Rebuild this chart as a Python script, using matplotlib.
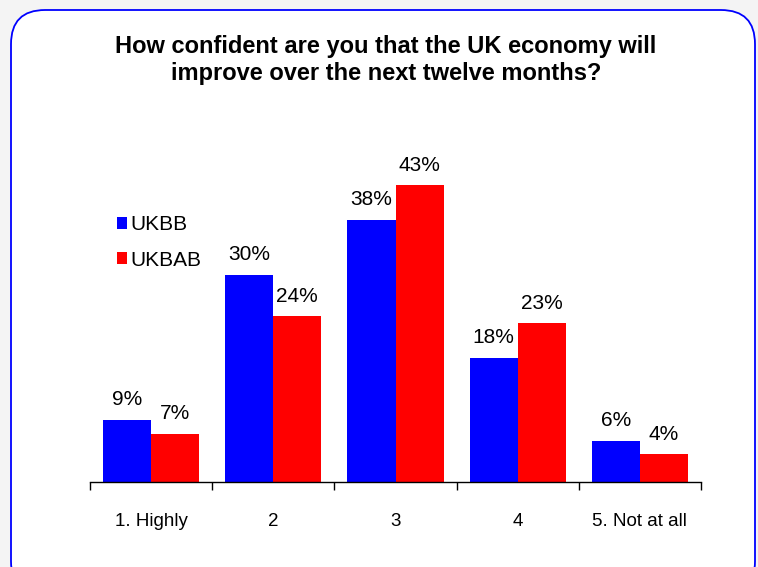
import matplotlib.pyplot as plt
from matplotlib.patches import FancyBboxPatch
import numpy as np

categories = ["1. Highly", "2", "3", "4", "5. Not at all"]
ukbb = [9, 30, 38, 18, 6]
ukbab = [7, 24, 43, 23, 4]
series_names = ["UKBB", "UKBAB"]
colors = ["#0000FF", "#FF0000"]
title = "How confident are you that the UK economy will\nimprove over the next twelve months?"

plt.rcParams['font.family'] = ['Liberation Sans', 'DejaVu Sans']

fig = plt.figure(figsize=(7.58, 5.67), dpi=100)
fig.patch.set_facecolor("#f4f4f4")

# rounded panel behind everything
panel = FancyBboxPatch((11 / 758, -0.05), 744 / 758, 1.05 - 10 / 567,
                       boxstyle="round,pad=0,rounding_size=0.045",
                       transform=fig.transFigure, facecolor="white",
                       edgecolor="#0000FF", linewidth=1.3, zorder=-5,
                       mutation_aspect=758 / 567)
fig.patches.append(panel)

ax = fig.add_axes([90 / 758, 85 / 567, 611 / 758, 352 / 567])
ax.set_facecolor("none")

x = np.arange(len(categories))
w = 0.393

for i, (vals, name) in enumerate(zip([ukbb, ukbab], series_names)):
    pos = x + (i - 0.5) * w
    ax.bar(pos, vals, width=w, color=colors[i], label=name, zorder=2)
    for p, v in zip(pos, vals):
        ax.annotate(f"{v}%", (p, v), xytext=(0, 10.5), textcoords="offset points",
                    ha="center", va="baseline", fontsize=15)

ax.set_xlim(-0.5, len(categories) - 0.5)
ax.set_ylim(0, 51)
ax.set_yticks([])
ax.set_xticks(np.arange(len(categories) + 1) - 0.5)
ax.set_xticklabels([])
ax.set_xticks(x, minor=True)
ax.set_xticklabels(categories, minor=True, fontsize=13.5)
ax.tick_params(axis="x", which="major", direction="out", length=6, width=1)
ax.tick_params(axis="x", which="minor", length=0, pad=22.5)
for s in ["left", "right", "top"]:
    ax.spines[s].set_visible(False)
ax.spines["bottom"].set_linewidth(1)

fig.text(386 / 758, 1 - 60 / 567, title, ha="center", va="center",
         fontsize=17, fontweight="bold", linespacing=1.2)

leg = ax.legend(loc="upper left", bbox_to_anchor=(0.03, 0.782), frameon=False,
                handlelength=0.5, handleheight=0.5,
                handletextpad=0.15, labelspacing=0.8,
                prop={'size': 15}, borderaxespad=0)

fig.savefig("out.png", dpi=100, facecolor=fig.get_facecolor())
